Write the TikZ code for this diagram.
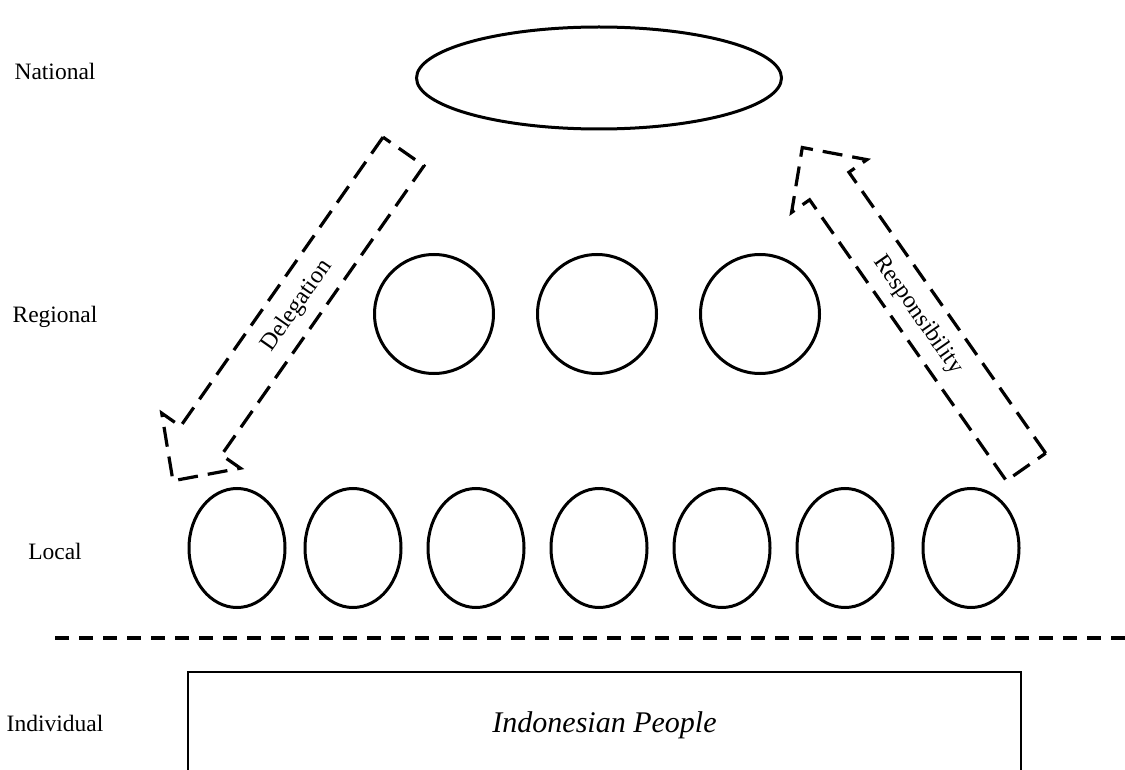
\documentclass[tikz,border=0pt]{standalone}
\usepackage{fontspec}
\setmainfont{Liberation Serif}
\usetikzlibrary{shapes.geometric}
\begin{document}
\begin{tikzpicture}[x=1pt,y=-1pt,
  shp/.style={draw, ellipse, line width=3pt, inner sep=0pt},
  loc/.style={shp, minimum width=96pt, minimum height=119pt},
  reg/.style={shp, minimum width=119pt, minimum height=119pt},
  lvl/.style={font=\fontsize{23.5}{28}\selectfont, anchor=base},
  arrlbl/.style={font=\fontsize{24}{28}\selectfont},
  blk/.style={draw, line width=3.2pt, dash pattern=on 20pt off 10pt, line join=miter},
  sep/.style={draw, line width=4pt, dash pattern=on 14pt off 10pt},
  box/.style={draw, line width=2.8pt}]
\useasboundingbox (0,0) rectangle (1125,770);

% level labels
\node[lvl] (lnat) at (55,80) {National};
\node[lvl] (lreg) at (55,322) {Regional};
\node[lvl] (lloc) at (55,559) {Local};
\node[lvl] (lind) at (55,731) {Individual};

% national
\node[shp, minimum width=365pt, minimum height=102pt] (nat) at (599,78) {};

% regional
\node[reg] (r1) at (434,314) {};
\node[reg] (r2) at (597,314) {};
\node[reg] (r3) at (760,314) {};

% local
\node[loc] (l1) at (237,548) {};
\node[loc] (l2) at (353,548) {};
\node[loc] (l3) at (476,548) {};
\node[loc] (l4) at (599,548) {};
\node[loc] (l5) at (722,548) {};
\node[loc] (l6) at (845,548) {};
\node[loc] (l7) at (971,548) {};

% separator
\coordinate (sepA) at (55,638);
\coordinate (sepB) at (1125,638);
\draw[sep] (sepA) -- (sepB);

% individual box (cut by bottom edge)
\coordinate (bxA) at (188,790);
\coordinate (bxB) at (188,672);
\coordinate (bxC) at (1021,672);
\coordinate (bxD) at (1021,790);
\draw[box] (bxA) -- (bxB) -- (bxC) -- (bxD);
\node[font=\fontsize{30}{35}\selectfont\itshape, anchor=base] (people) at (604.5,732) {Indonesian People};

% delegation arrow
\begin{scope}[shift={(403.5,151.5)}, rotate=235]
  \draw[blk] (0,25) -- (353,25) -- (353,48) -- (402,0) -- (353,-48) -- (353,-25) -- (0,-25) -- cycle;
\end{scope}
\node[arrlbl, rotate=55] (deleg) at (297,306) {Delegation};

% responsibility arrow
\begin{scope}[shift={(1026,467)}, rotate=125]
  \draw[blk] (0,24) -- (343,24) -- (343,46) -- (390,0) -- (343,-46) -- (343,-24) -- (0,-24) -- cycle;
\end{scope}
\node[arrlbl, rotate=-55] (resp) at (918,315) {Responsibility};
\end{tikzpicture}
\end{document}
